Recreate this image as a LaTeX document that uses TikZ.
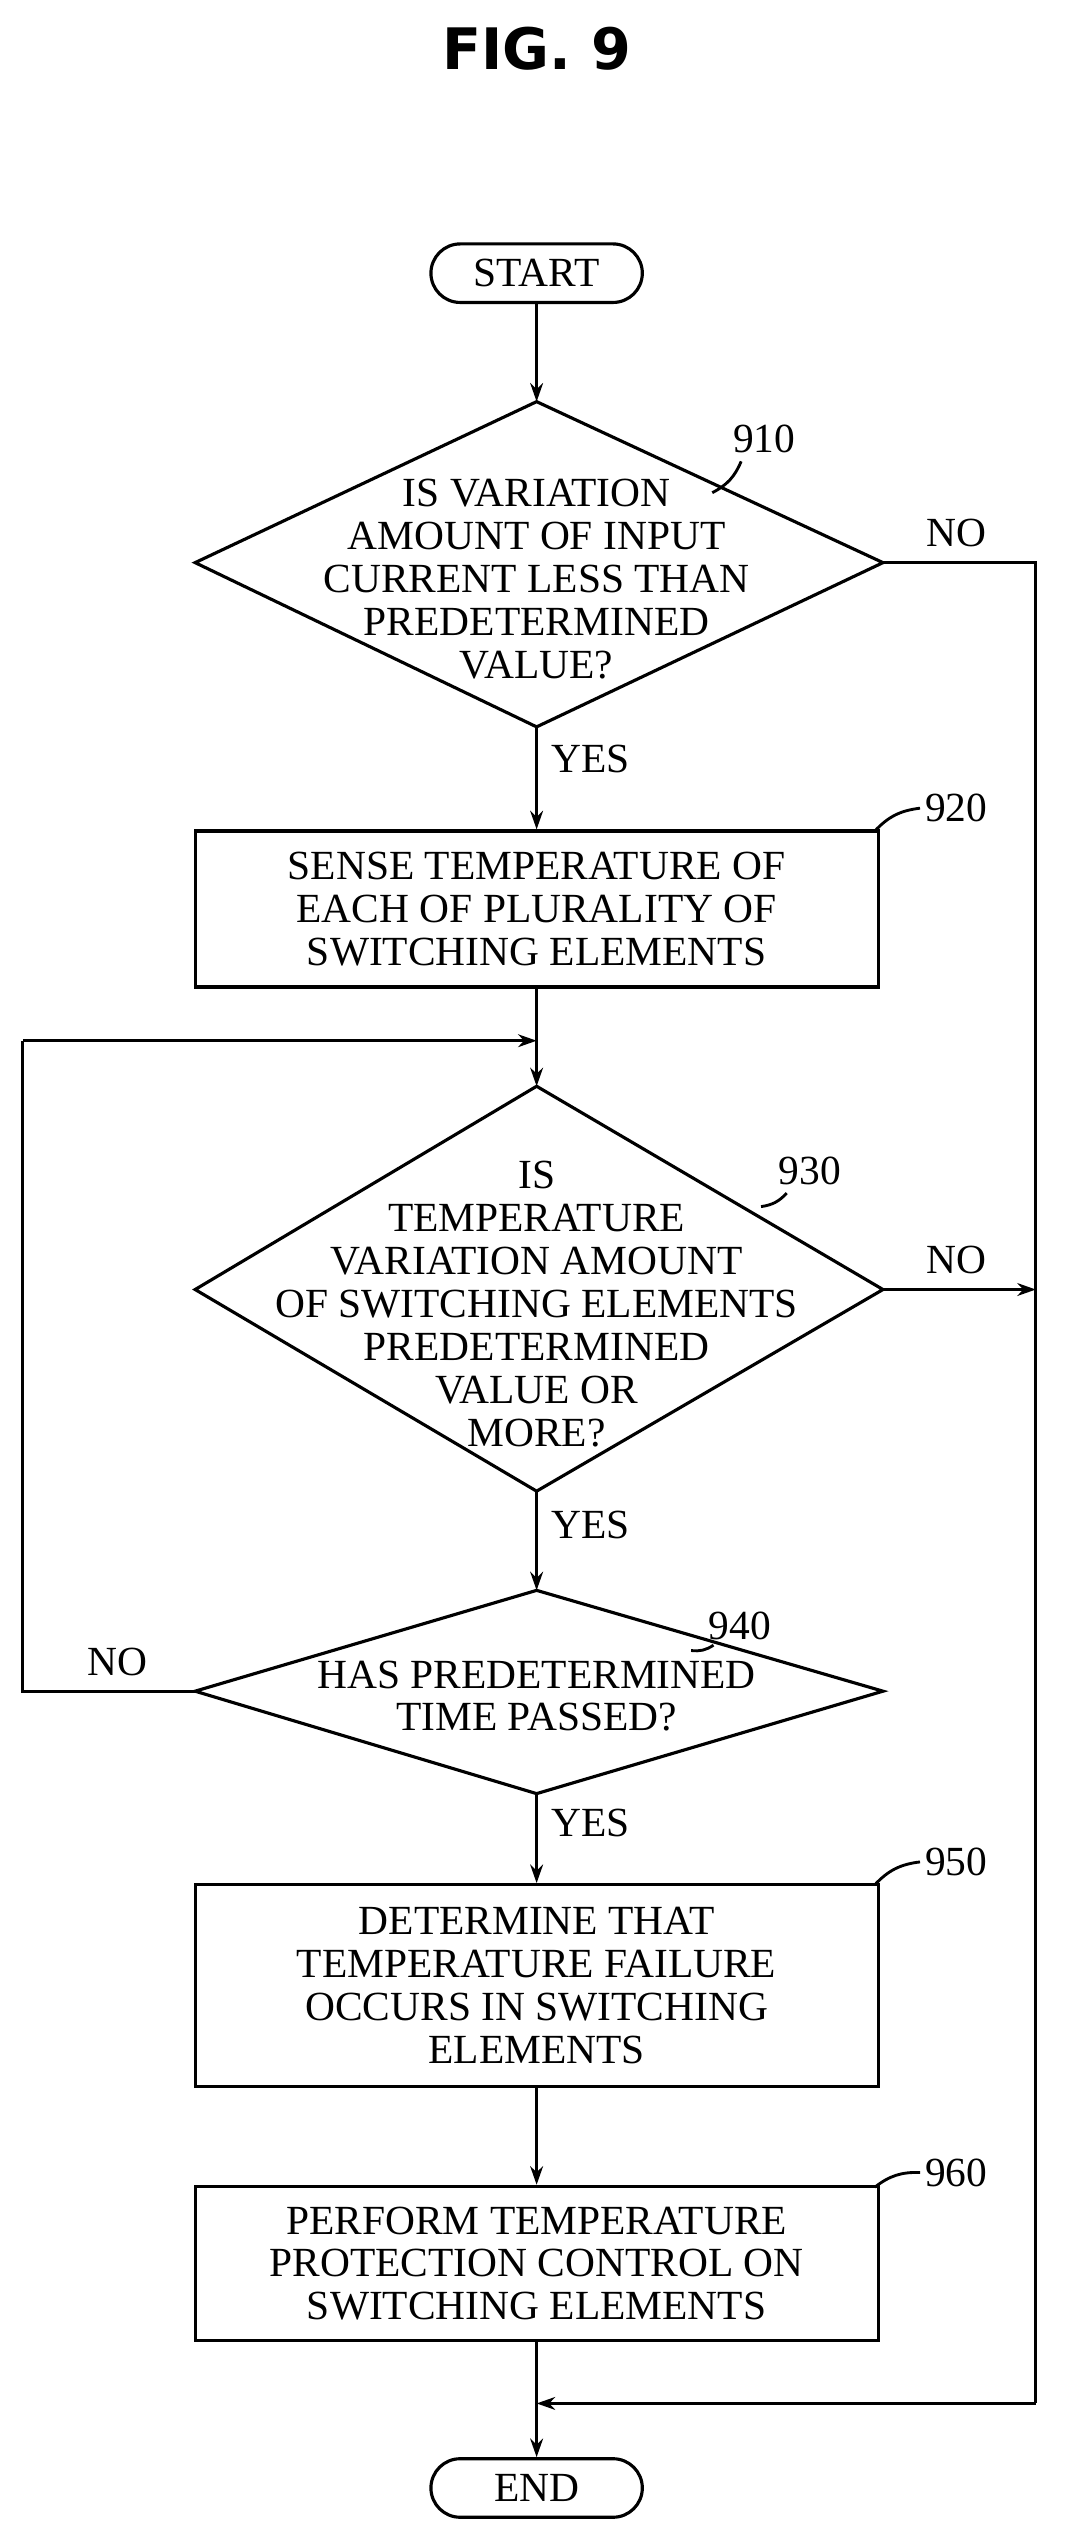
\documentclass[tikz,border=0pt]{standalone}
\usepackage{fontspec}
\setmainfont{Liberation Serif}
\newfontfamily\titlefont{DejaVu Sans}
\usetikzlibrary{shapes.geometric,arrows.meta}
\begin{document}
\begin{tikzpicture}[x=0.04cm,y=-0.04cm,
  txt/.style={font=\fontsize{29}{30}\selectfont, align=center},
  box/.style={draw,line width=2.2pt,minimum width=420*0.04cm,txt},
  term/.style={draw,line width=2.2pt,rounded corners=18*0.04cm,minimum width=130*0.04cm,minimum height=36*0.04cm,txt},
  ln/.style={line width=2pt},
  arr/.style={ln,-{Stealth[length=13pt,width=9pt]}},
  lab/.style={font=\fontsize{29}{30}\selectfont}]
\useasboundingbox (0,0) rectangle (660,1562);
\node[font=\titlefont\bfseries\fontsize{40}{44}\selectfont] (title) at (330,30) {FIG. 9};
\node[term] (start) at (330,168) {START};
\draw[line width=2.2pt] (330,247) -- (120,346) -- (330,447) -- (543,346) -- cycle;
\coordinate (d1t) at (330,247); \coordinate (d1b) at (330,447); \coordinate (d1r) at (543,346);
\node[txt] (d1) at (330,356) {IS VARIATION\\AMOUNT OF INPUT\\CURRENT LESS THAN\\PREDETERMINED\\VALUE?};
\node[box,minimum height=96*0.04cm] (b2) at (330,559) {SENSE TEMPERATURE OF\\EACH OF PLURALITY OF\\SWITCHING ELEMENTS};
\draw[line width=2.2pt] (330,668) -- (120,793) -- (330,917) -- (543,793) -- cycle;
\coordinate (d3t) at (330,668); \coordinate (d3b) at (330,917); \coordinate (d3r) at (543,793);
\node[txt] (d3) at (330,802) {IS\\TEMPERATURE\\VARIATION AMOUNT\\OF SWITCHING ELEMENTS\\PREDETERMINED\\VALUE OR\\MORE?};
\draw[line width=2.2pt] (330,978) -- (120,1040) -- (330,1103) -- (543,1040) -- cycle;
\coordinate (d4t) at (330,978); \coordinate (d4b) at (330,1103); \coordinate (d4l) at (120,1040);
\node[txt] (d4) at (330,1043) {HAS PREDETERMINED\\TIME PASSED?};
\node[box,minimum height=124*0.04cm] (b5) at (330,1221) {DETERMINE THAT\\TEMPERATURE FAILURE\\OCCURS IN SWITCHING\\ELEMENTS};
\node[box,minimum height=95*0.04cm] (b6) at (330,1392) {PERFORM TEMPERATURE\\PROTECTION CONTROL ON\\SWITCHING ELEMENTS};
\node[term] (end) at (330,1530) {END};
\coordinate (j1) at (330,640); \coordinate (j2) at (330,1478);
\coordinate (r1) at (637,346); \coordinate (r2) at (637,793); \coordinate (r3) at (637,1478);
\coordinate (l1) at (14,1040); \coordinate (l2) at (14,640);
\draw[arr] (start) -- (d1t);
\draw[arr] (d1b) -- (b2);
\draw[arr] (b2) -- (d3t);
\draw[arr] (d3b) -- (d4t);
\draw[arr] (d4b) -- (b5);
\draw[arr] (b5) -- (b6);
\draw[arr] (b6) -- (end);
\draw[ln] (d1r) -- (r1) -- (r3);
\draw[arr] (r3) -- (j2);
\draw[arr] (d3r) -- (r2);
\draw[ln] (d4l) -- (l1) -- (l2);
\draw[arr] (l2) -- (j1);
\node[lab] (n1) at (588,328) {NO};
\node[lab] (n2) at (588,775) {NO};
\node[lab] (n3) at (72,1022) {NO};
\node[lab] (y1) at (363,467) {YES};
\node[lab] (y2) at (363,938) {YES};
\node[lab] (y3) at (363,1121) {YES};
\node[lab] (l910) at (470,270) {910};
\node[lab] (l920) at (588,497) {920};
\node[lab] (l930) at (498,720) {930};
\node[lab] (l940) at (455,1000) {940};
\node[lab] (l950) at (588,1145) {950};
\node[lab] (l960) at (588,1336) {960};
\draw[ln] (l910.south west) ++(8,2) to[bend left=20] (438,303);
\draw[ln] (l920.west) to[bend right=20] (538,511);
\draw[ln] (l930.south west) ++(8,2) to[bend left=20] (468,742);
\draw[ln] (l940.south west) ++(6,0) to[bend left=20] (425,1015);
\draw[ln] (l950.west) to[bend right=20] (538,1159);
\draw[ln] (l960.west) to[bend right=20] (538,1345);
\end{tikzpicture}
\end{document}
